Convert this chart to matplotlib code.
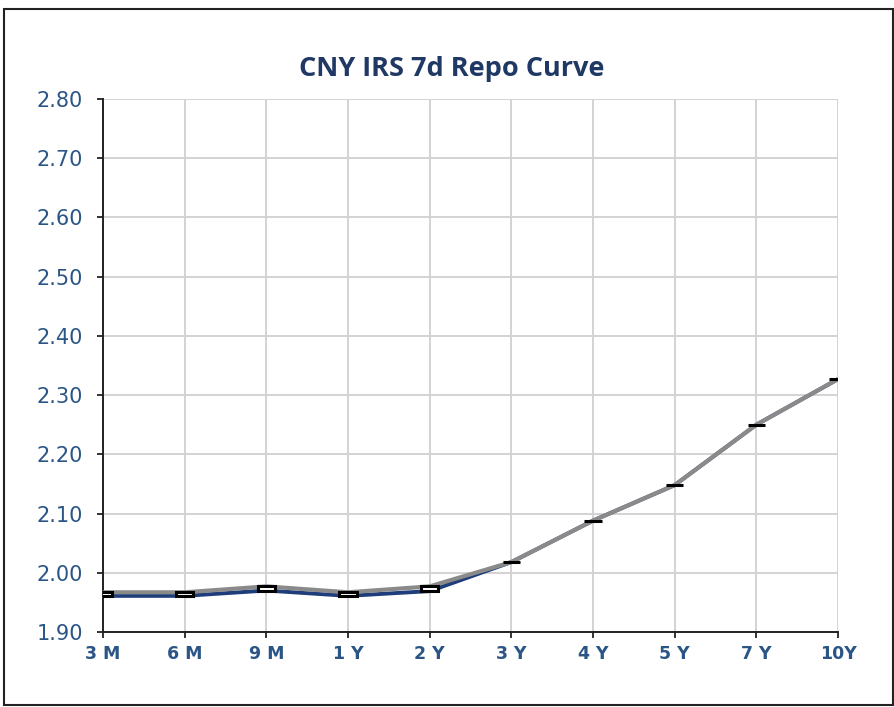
import matplotlib.pyplot as plt
from matplotlib.patches import Rectangle

# curve data
tenors = ['3 M', '6 M', '9 M', '1 Y', '2 Y', '3 Y', '4 Y', '5 Y', '7 Y', '10Y']
bid = [1.961, 1.961, 1.970, 1.961, 1.969, 2.018, 2.088, 2.148, 2.250, 2.327]
ask = [1.967, 1.967, 1.977, 1.967, 1.977, 2.018, 2.088, 2.148, 2.250, 2.327]
yticks = [1.90, 2.00, 2.10, 2.20, 2.30, 2.40, 2.50, 2.60, 2.70, 2.80]

x = list(range(len(tenors)))

fig = plt.figure(figsize=(8.95, 7.07), dpi=100)
ax = fig.add_axes([0.1151, 0.1061, 0.8212, 0.7539])

# outer chart border
fig.patches.append(Rectangle((0.0045, 0.003), 0.993, 0.984, transform=fig.transFigure,
                             fill=False, edgecolor='#222222', linewidth=1.5))

ax.plot(x, bid, color='#1F3D7A', linewidth=2.8, zorder=3, solid_capstyle='butt')
ax.plot(x, ask, color='#8A8A8A', linewidth=3.0, zorder=4, solid_capstyle='butt')

# up-down bars between the two series
heights = [a - b for a, b in zip(ask, bid)]
ax.bar(x, heights, bottom=bid, width=0.21, color='white', edgecolor='black',
       linewidth=2.2, zorder=5)

ax.set_xlim(0, len(tenors) - 1)
ax.set_ylim(1.90, 2.80)
ax.set_yticks(yticks)
ax.set_yticklabels(['%.2f' % v for v in yticks])
ax.set_xticks(x)
ax.set_xticklabels(tenors)

ax.grid(True, color='#D3D3D3', linewidth=1.4)
ax.set_axisbelow(True)
for s in ['top', 'right']:
    ax.spines[s].set_visible(False)
for s in ['left', 'bottom']:
    ax.spines[s].set_color('#222222')
    ax.spines[s].set_linewidth(1.4)
ax.tick_params(axis='both', direction='out', length=4.5, width=1.3, color='#222222',
               labelcolor='#2A5585', labelsize=15)
ax.tick_params(axis='y', pad=10)
ax.tick_params(axis='x', pad=5)
for lab in ax.get_xticklabels():
    lab.set_fontweight('bold')
    lab.set_fontsize(12.5)

fig.text(0.505, 0.903, 'CNY IRS 7d Repo Curve', ha='center', va='center',
         fontsize=19.5, fontweight='bold', color='#1F3864', family='Open Sans')

fig.savefig('out.png', dpi=100)
